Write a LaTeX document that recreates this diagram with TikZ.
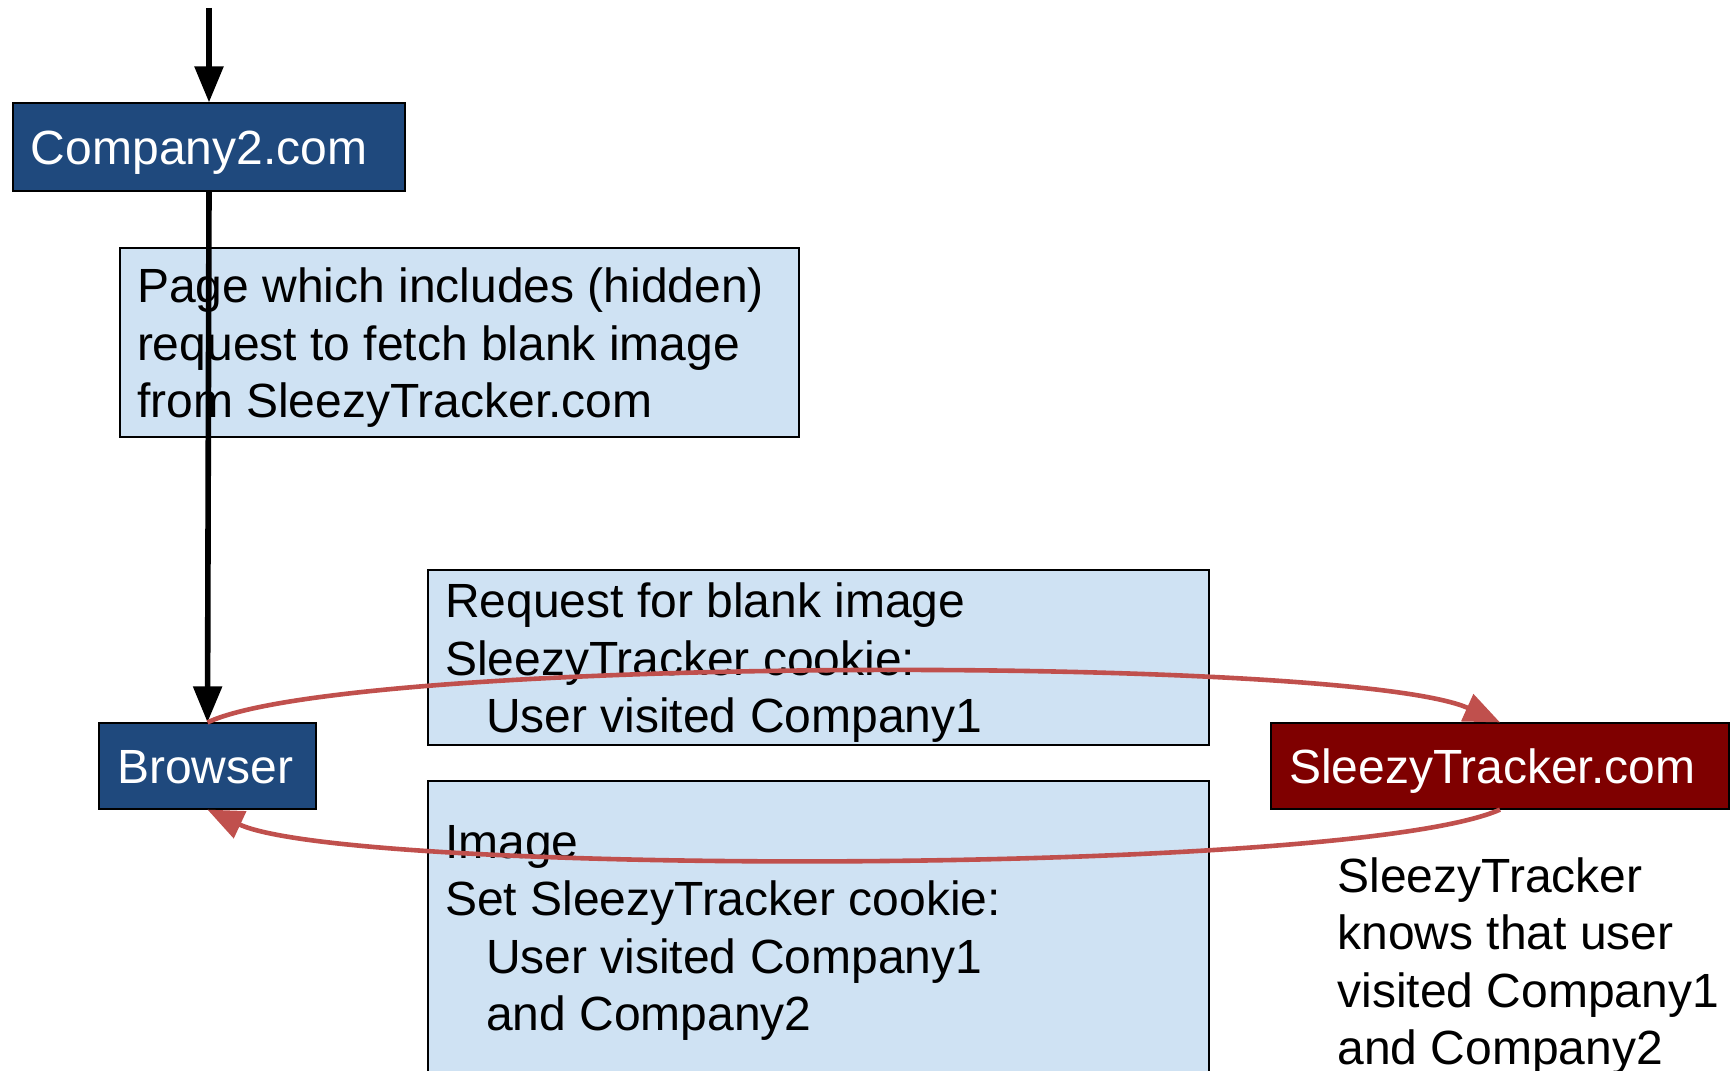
\documentclass[tikz,border=0pt]{standalone}
\usepackage{fontspec}
\setmainfont{Liberation Sans}
\usetikzlibrary{arrows.meta}
\definecolor{siteblue}{HTML}{1F497D}
\definecolor{trackred}{HTML}{7F0000}
\definecolor{msgblue}{HTML}{CFE2F3}
\definecolor{flowred}{HTML}{C0504D}
\newcommand\tab{\hspace*{20.5pt}}

\begin{document}
\begin{tikzpicture}[x=0.5pt, y=-0.5pt, font={\fontsize{24}{28.75}\selectfont},
  site/.style = {draw, line width=0.6pt, fill=siteblue, text=white, align=flush left, inner xsep=9pt, inner ysep=0pt, minimum height=43pt, text height=23pt, text depth=5.2pt},
  msg/.style = {draw, line width=0.6pt, fill=msgblue, align=flush left, inner xsep=8.5pt, inner ysep=0pt, text width=373.5pt, text height=23pt, text depth=62.7pt},
  flow/.style = {line width=2.8pt, -{Triangle[length=18pt,width=14pt]}},
  back/.style = {line width=2.3pt, draw=flowred, -{Triangle[length=18pt,width=14.5pt]}}]
	\useasboundingbox (0,0) rectangle (1733,1070);
	\coordinate (in) at (209,8);
	\node[site, text width=178pt, minimum height=44pt] (company) at (209,147){Company2.com};
	\node[msg, text width=322.5pt, minimum height=94.5pt] (page) at (459.5,342.5){Page which includes (hidden)\\request to fetch blank image\\from SleezyTracker.com};
	\node[site, text width=90.5pt] (browser) at (207.5,766){Browser};
	\node[site, fill=trackred, text width=211pt] (tracker) at (1500,766){SleezyTracker.com};
	\node[msg, minimum height=87.5pt] (req) at (818.5,657.5){Request for blank image\\SleezyTracker cookie:\\\tab User visited Company1};
	\node[msg, minimum height=145.5pt, text depth=91.45pt] (img) at (818.5,926.5){Image\\Set SleezyTracker cookie:\\\tab User visited Company1\\\tab and Company2};
	\node[align=left, inner sep=0pt, anchor=west] (note) at (1337,966){SleezyTracker\\knows that user\\visited Company1\\and Company2};
	\draw[flow] (in) -- (company);
	\draw[flow] (company.south) -- (browser.north);
	\draw[back] (browser.north) .. controls (350,655) and (1350,655) .. (tracker.north);
	\draw[back] (tracker.south) .. controls (1350,876) and (350,876) .. (browser.south);
\end{tikzpicture}
\end{document}
